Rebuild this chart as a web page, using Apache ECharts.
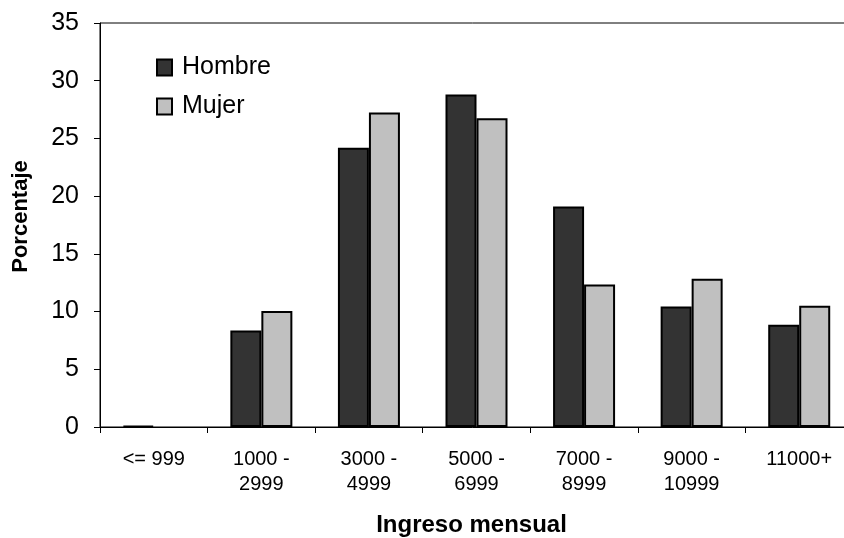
<!DOCTYPE html>
<html>
<head>
<meta charset="utf-8">
<script src="https://cdn.jsdelivr.net/npm/echarts@6/dist/echarts.min.js"></script>
<style>
  html, body { margin: 0; padding: 0; background: #fff; }
  #chart { width: 844px; height: 538px; }
</style>
</head>
<body>
<div id="chart"></div>
<script>
const categories = ['<= 999', '1000 -\n2999', '3000 -\n4999', '5000 -\n6999', '7000 -\n8999', '9000 -\n10999', '11000+'];
const hombre = [0.1, 8.35, 24.2, 28.8, 19.1, 10.45, 8.85];
const mujer = [null, 10.05, 27.25, 26.75, 12.35, 12.85, 10.5];
const yTicks = { min: 0, max: 35, interval: 5 };

const chart = echarts.init(document.getElementById('chart'), null, { renderer: 'canvas' });
const font = 'Liberation Sans, Arial, sans-serif';

chart.setOption({
  animation: false,
  textStyle: { fontFamily: font, color: '#000' },
  grid: {
    left: 100,
    top: 23,
    width: 753,   // plot area runs a little past the right edge, as in the original
    bottom: 111,
    outerBoundsMode: 'none',
    show: true,
    borderColor: '#000',
    borderWidth: 1,
    backgroundColor: 'transparent'
  },
  legend: {
    orient: 'vertical',
    left: 151,
    top: 50,
    itemWidth: 15,
    itemHeight: 16,
    itemGap: 14,
    icon: 'rect',
    textStyle: { fontSize: 25, color: '#000', fontFamily: font, padding: [0, 0, 0, 5] },
    data: ['Hombre', 'Mujer']
  },
  xAxis: {
    type: 'category',
    data: categories,
    name: 'Ingreso mensual',
    nameLocation: 'middle',
    nameGap: 86,
    nameTextStyle: { fontSize: 24, fontWeight: 'bold', color: '#000', fontFamily: font, padding: [0, 10, 0, 0] },
    axisLine: { lineStyle: { color: '#000', width: 1 } },
    axisTick: { show: true, length: 6, lineStyle: { color: '#000' } },
    axisLabel: { fontSize: 20, lineHeight: 25, color: '#000', margin: 20, fontFamily: font, interval: 0 },
    splitLine: { show: false }
  },
  yAxis: {
    type: 'value',
    min: yTicks.min,
    max: yTicks.max,
    interval: yTicks.interval,
    name: 'Porcentaje',
    nameLocation: 'middle',
    nameRotate: 90,
    nameGap: 68,
    nameTextStyle: { fontSize: 22, fontWeight: 'bold', color: '#000', fontFamily: font, padding: [0, 0, 0, 17] },
    axisLine: { show: true, lineStyle: { color: '#000', width: 1 } },
    axisTick: { show: true, length: 6, lineStyle: { color: '#000' } },
    axisLabel: { fontSize: 25, color: '#000', margin: 21, fontFamily: font },
    splitLine: { show: false }
  },
  series: [
    {
      name: 'Hombre',
      type: 'bar',
      data: hombre,
      barWidth: 31,
      barGap: '0%',
      itemStyle: { color: '#333333', borderColor: '#000', borderWidth: 2 }
    },
    {
      name: 'Mujer',
      type: 'bar',
      data: mujer,
      barWidth: 31,
      itemStyle: { color: '#c0c0c0', borderColor: '#000', borderWidth: 2 }
    }
  ]
});
</script>
</body>
</html>
